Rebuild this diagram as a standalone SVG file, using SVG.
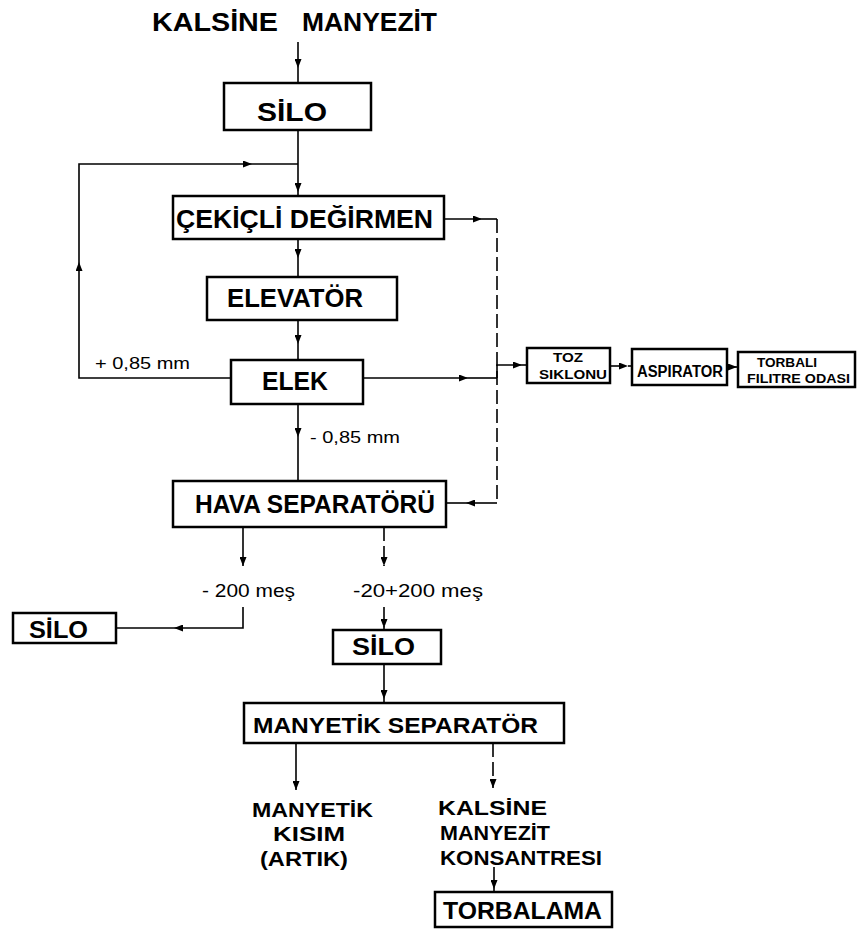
<svg xmlns="http://www.w3.org/2000/svg" width="860" height="930" viewBox="0 0 860 930">
<style>
.bx{fill:#fff;stroke:#000;stroke-width:2.5}
.t{font-family:"Liberation Sans","DejaVu Sans",sans-serif;font-weight:bold;fill:#000}
.s{font-family:"Liberation Sans","DejaVu Sans",sans-serif;font-weight:normal;fill:#000}
.c{fill:none;stroke:#000;stroke-width:1.6}
.d{fill:none;stroke:#000;stroke-width:1.6;stroke-dasharray:14 5}
.a{marker-end:url(#ah)}
</style>
<defs>
<marker id="ah" markerUnits="userSpaceOnUse" markerWidth="9" markerHeight="7" refX="9" refY="3.5" orient="auto">
<path d="M0,0 L9,3.5 L0,7 z" fill="#000"/>
</marker>
</defs>
<rect width="860" height="930" fill="#fff"/>

<g id="connectors">
<path class="c a" d="M298 42 V68"/><path class="c" d="M298 68 V83"/>
<path class="c a" d="M298 130 V192"/><path class="c" d="M298 192 V196"/>
<path class="c a" d="M231 378 H79 V262"/><path class="c a" d="M79 262 V164 H252"/><path class="c" d="M252 164 H298"/>
<path class="c a" d="M298 239 V258"/><path class="c" d="M298 258 V277"/>
<path class="c a" d="M298 320 V344"/><path class="c" d="M298 344 V360"/>
<path class="c a" d="M298 404 V437"/><path class="c" d="M298 437 V481"/>
<path class="c a" d="M444 219 H482"/><path class="c" d="M482 219 H497"/>
<path class="d" d="M497 219 V503"/>
<path class="c a" d="M497 503 H466"/><path class="c" d="M466 503 H446"/>
<path class="c a" d="M363 378 H468"/><path class="c" d="M468 378 H497"/>
<path class="c a" d="M497 378 V365 H522"/><path class="c" d="M522 365 H527"/>
<path class="d a" d="M610 366 H628"/><path class="c" d="M628 366 H632"/>
<path class="c a" d="M727 367 H737"/>
<path class="c a" d="M243 527 V566"/>
<path class="c a" d="M243 607 V628 H174"/><path class="c" d="M174 628 H116"/>
<path class="d a" d="M384 527 V566"/>
<path class="d a" d="M384 607 V628"/><path class="c" d="M384 628 V630"/>
<path class="c a" d="M384 664 V699"/><path class="c" d="M384 699 V703"/>
<path class="c a" d="M296 743 V790"/>
<path class="d a" d="M493 743 V788"/>
<path class="c a" d="M494 867 V889"/><path class="c" d="M494 889 V892"/>
</g>

<g id="n-title">
<text class="t" x="152" y="31" font-size="25" textLength="126" lengthAdjust="spacingAndGlyphs">KALSİNE</text>
<text class="t" x="302" y="31" font-size="25" textLength="135" lengthAdjust="spacingAndGlyphs">MANYEZİT</text>
</g>

<g id="n-silo1">
<rect class="bx" x="224" y="83" width="147" height="47"/>
<text class="t" x="257" y="121" font-size="25" textLength="70" lengthAdjust="spacingAndGlyphs">SİLO</text>
</g>

<g id="n-cekicli">
<rect class="bx" x="173" y="196" width="271" height="43"/>
<text class="t" x="176" y="228" font-size="25" textLength="257" lengthAdjust="spacingAndGlyphs">ÇEKİÇLİ DEĞİRMEN</text>
</g>

<g id="n-elevator">
<rect class="bx" x="207" y="277" width="190" height="43"/>
<text class="t" x="227" y="307" font-size="25" textLength="136" lengthAdjust="spacingAndGlyphs">ELEVATÖR</text>
</g>

<g id="n-elek">
<rect class="bx" x="231" y="360" width="132" height="44"/>
<text class="t" x="262" y="390" font-size="25" textLength="66" lengthAdjust="spacingAndGlyphs">ELEK</text>
</g>

<g id="l-plus">
<text class="s" x="95" y="369" font-size="17" textLength="95" lengthAdjust="spacingAndGlyphs">+ 0,85 mm</text>
</g>
<g id="l-minus">
<text class="s" x="310" y="443" font-size="17" textLength="90" lengthAdjust="spacingAndGlyphs">- 0,85 mm</text>
</g>

<g id="n-toz">
<rect class="bx" x="527" y="348" width="83" height="35"/>
<text class="t" x="553" y="362" font-size="12" textLength="30" lengthAdjust="spacingAndGlyphs">TOZ</text>
<text class="t" x="539" y="379" font-size="12" textLength="68" lengthAdjust="spacingAndGlyphs">SIKLONU</text>
</g>

<g id="n-aspirator">
<rect class="bx" x="632" y="349" width="95" height="36"/>
<text class="t" x="637" y="377" font-size="16" textLength="86" lengthAdjust="spacingAndGlyphs">ASPIRATOR</text>
</g>

<g id="n-torbali">
<rect class="bx" x="738" y="352" width="117" height="35"/>
<text class="t" x="757" y="367" font-size="12" textLength="60" lengthAdjust="spacingAndGlyphs">TORBALI</text>
<text class="t" x="747" y="383" font-size="12" textLength="103" lengthAdjust="spacingAndGlyphs">FILITRE ODASI</text>
</g>

<g id="n-hava">
<rect class="bx" x="173" y="481" width="273" height="46"/>
<text class="t" x="195" y="513" font-size="25" textLength="240" lengthAdjust="spacingAndGlyphs">HAVA SEPARATÖRÜ</text>
</g>

<g id="l-200">
<text class="s" x="202" y="597" font-size="19" textLength="93" lengthAdjust="spacingAndGlyphs">- 200 meş</text>
</g>
<g id="l-20200">
<text class="s" x="353" y="597" font-size="19" textLength="130" lengthAdjust="spacingAndGlyphs">-20+200 meş</text>
</g>

<g id="n-silo-left">
<rect class="bx" x="13" y="613" width="103" height="30"/>
<text class="t" x="29" y="638" font-size="23" textLength="59" lengthAdjust="spacingAndGlyphs">SİLO</text>
</g>

<g id="n-silo2">
<rect class="bx" x="333" y="630" width="108" height="34"/>
<text class="t" x="352" y="655" font-size="23" textLength="63" lengthAdjust="spacingAndGlyphs">SİLO</text>
</g>

<g id="n-manyetik-sep">
<rect class="bx" x="244" y="703" width="320" height="40"/>
<text class="t" x="253" y="733" font-size="22" textLength="285" lengthAdjust="spacingAndGlyphs">MANYETİK SEPARATÖR</text>
</g>

<g id="n-manyetik-kisim">
<text class="t" x="252" y="817" font-size="21" textLength="121" lengthAdjust="spacingAndGlyphs">MANYETİK</text>
<text class="t" x="273" y="841" font-size="21" textLength="72" lengthAdjust="spacingAndGlyphs">KISIM</text>
<text class="t" x="260" y="866" font-size="21" textLength="88" lengthAdjust="spacingAndGlyphs">(ARTIK)</text>
</g>

<g id="n-konsantre">
<text class="t" x="438" y="815" font-size="21" textLength="109" lengthAdjust="spacingAndGlyphs">KALSİNE</text>
<text class="t" x="440" y="840" font-size="21" textLength="110" lengthAdjust="spacingAndGlyphs">MANYEZİT</text>
<text class="t" x="440" y="865" font-size="21" textLength="162" lengthAdjust="spacingAndGlyphs">KONSANTRESI</text>
</g>

<g id="n-torbalama">
<rect class="bx" x="435" y="892" width="177" height="35"/>
<text class="t" x="443" y="919" font-size="23" textLength="159" lengthAdjust="spacingAndGlyphs">TORBALAMA</text>
</g>
</svg>
